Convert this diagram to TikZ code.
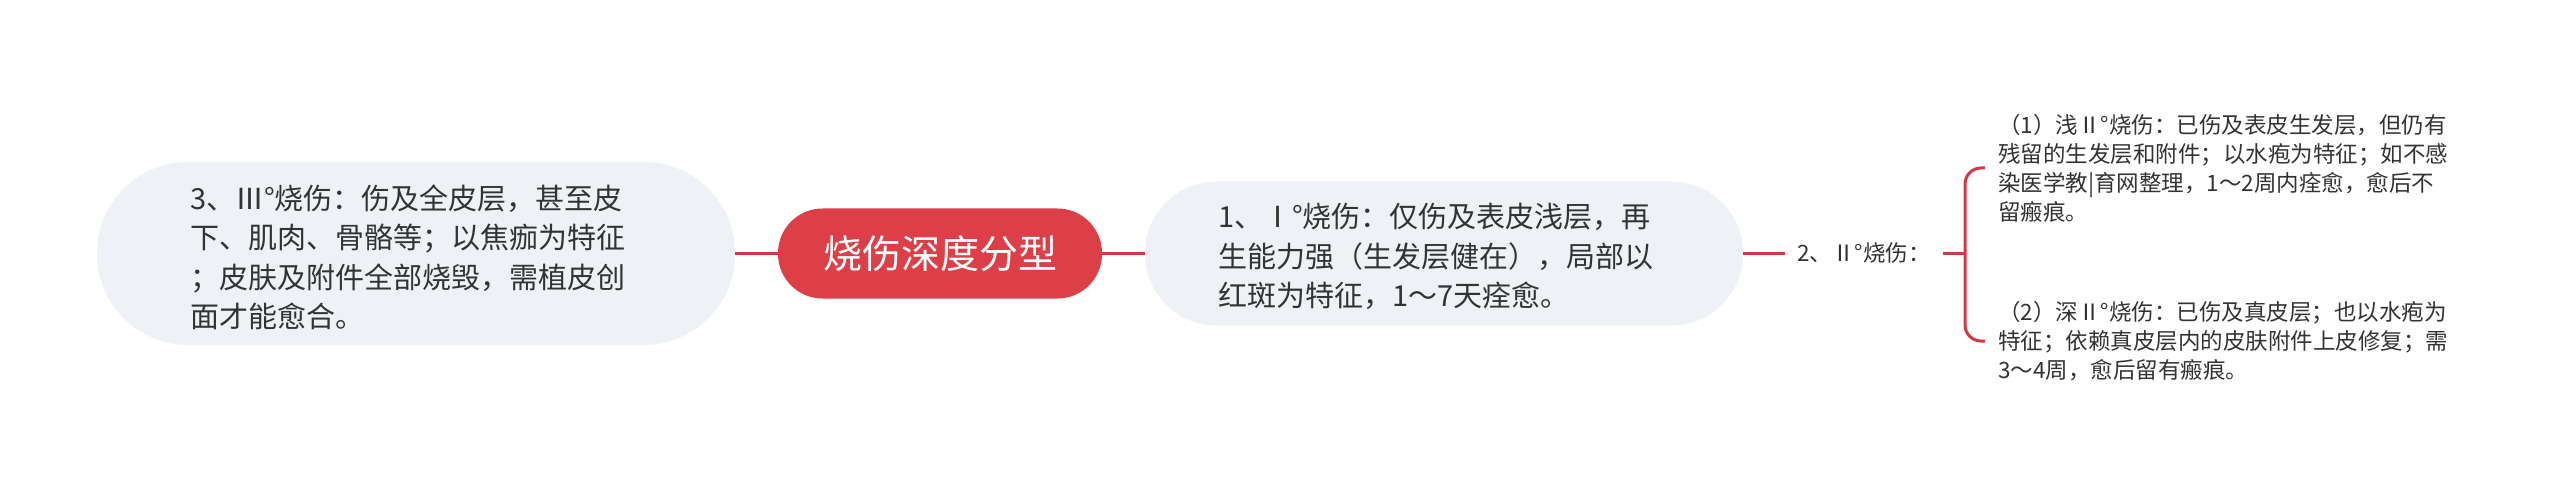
\documentclass[tikz,border=0pt]{standalone}
\usepackage{fontspec}
\newfontfamily\cjk{Noto Sans CJK SC}
\definecolor{boxfill}{HTML}{EEF1F5}
\definecolor{mainred}{HTML}{DC3F48}
\definecolor{linered}{HTML}{D13A44}
\definecolor{txt}{HTML}{333333}
\begin{document}
\begin{tikzpicture}[x=1bp,y=-1bp,
  subbox/.style={fill=boxfill, rounded corners=#1, text=txt,
    font=\cjk\fontsize{29bp}{39.5bp}\selectfont, align=left, inner sep=0pt},
  rootbox/.style={fill=mainred, rounded corners=44.5bp, text=white,
    font=\cjk\fontsize{39bp}{46bp}\selectfont, inner sep=0pt,
    minimum width=324bp, minimum height=90bp},
  smalltxt/.style={text=txt, font=\cjk\fontsize{22.5bp}{29bp}\selectfont,
    inner xsep=12bp, inner ysep=4bp},
  leaf/.style={text=txt, font=\cjk\fontsize{22.5bp}{29bp}\selectfont,
    align=left, inner xsep=13bp, inner ysep=4bp},
  conn/.style={draw=linered, line width=3bp}
]
\useasboundingbox (0,0) rectangle (2560,493);

\node[subbox=91bp, minimum width=638bp, minimum height=183bp, text width=452bp] (n3) at (416,253.5)
  {\rule{0pt}{32bp}3、Ⅲ°烧伤：伤及全皮层，甚至皮\\下、肌肉、骨骼等；以焦痂为特征\\；皮肤及附件全部烧毁，需植皮创\\面才能愈合。};

\node[rootbox] (root) at (940,253.5) {烧伤深度分型};

\node[subbox=71.5bp, minimum width=598bp, minimum height=144bp, text width=452bp] (n1) at (1444,253.5)
  {\rule{0pt}{31bp}1、Ⅰ°烧伤：仅伤及表皮浅层，再\\生能力强（生发层健在），局部以\\红斑为特征，1～7天痊愈。};

\node[smalltxt, anchor=west] (n2) at (1785,253.5) {2、Ⅱ°烧伤：};

\node[leaf, anchor=west] (r1) at (1985,168)
  {（1）浅Ⅱ°烧伤：已伤及表皮生发层，但仍有\\残留的生发层和附件；以水疱为特征；如不感\\染医学教|育网整理，1～2周内痊愈，愈后不\\留瘢痕。};
\node[leaf, anchor=west] (r2) at (1985,341)
  {（2）深Ⅱ°烧伤：已伤及真皮层；也以水疱为\\特征；依赖真皮层内的皮肤附件上皮修复；需\\3～4周，愈后留有瘢痕。};

\coordinate (bj) at (1965,253.5);
\draw[conn] (n3.east) -- (root.west);
\draw[conn] (root.east) -- (n1.west);
\draw[conn] (n1.east) -- (n2.west);
\draw[conn] (n2.east) -- (bj);
\draw[conn, rounded corners=16bp] (r1.west) -- (bj |- r1.west) -- (bj |- r2.west) -- (r2.west);
\end{tikzpicture}
\end{document}
